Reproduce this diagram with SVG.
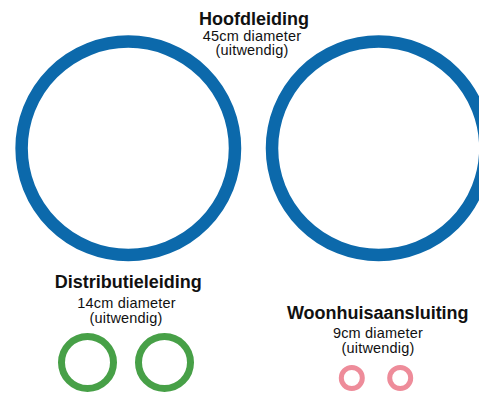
<svg xmlns="http://www.w3.org/2000/svg" width="479" height="394" viewBox="0 0 479 394">
<style>
.t{font-family:"Liberation Sans",Arial,sans-serif;font-weight:bold;font-size:18px;fill:#111;text-anchor:middle}
.s{font-family:"Liberation Sans",Arial,sans-serif;font-size:14.5px;letter-spacing:0.2px;fill:#111;text-anchor:middle}
.blue{fill:none;stroke:#0c69ab;stroke-width:12.5}
.green{fill:none;stroke:#47a047;stroke-width:7}
.pink{fill:none;stroke:#ee8c9a;stroke-width:5}
</style>
<rect width="479" height="394" fill="#fff"/>
<g id="hoofdleiding">
<g id="hoofd1"><circle class="blue" cx="128.3" cy="148.3" r="106.7"/></g>
<g id="hoofd2"><circle class="blue" cx="378.7" cy="148.3" r="106.7"/></g>
<text class="t" x="254" y="24.5">Hoofdleiding</text>
<text class="s" x="252" y="40.5">45cm diameter</text>
<text class="s" x="252" y="55">(uitwendig)</text>
</g>
<g id="distributieleiding">
<g id="dist1"><circle class="green" cx="87.5" cy="362.5" r="26"/></g>
<g id="dist2"><circle class="green" cx="164.5" cy="362.5" r="26"/></g>
<text class="t" x="128.3" y="288">Distributieleiding</text>
<text class="s" x="126.5" y="308">14cm diameter</text>
<text class="s" x="126" y="323">(uitwendig)</text>
</g>
<g id="woonhuisaansluiting">
<g id="woon1"><circle class="pink" cx="351.8" cy="378" r="10.5"/></g>
<g id="woon2"><circle class="pink" cx="400.2" cy="378" r="10.5"/></g>
<text class="t" x="377.8" y="319">Woonhuisaansluiting</text>
<text class="s" x="378" y="338">9cm diameter</text>
<text class="s" x="378" y="353">(uitwendig)</text>
</g>
<g id="connectors"/>
</svg>
